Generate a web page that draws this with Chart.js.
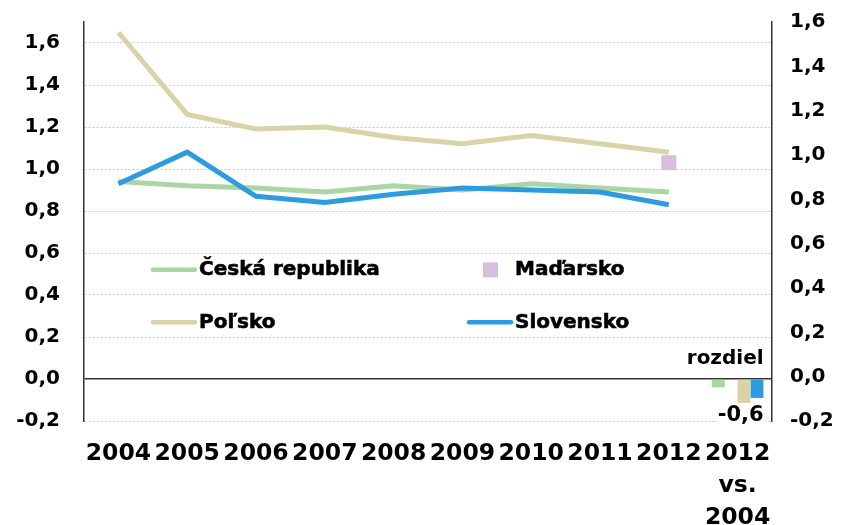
<!DOCTYPE html>
<html>
<head>
<meta charset="utf-8">
<script src="https://cdn.jsdelivr.net/npm/chart.js@4"></script>
<style>
  html, body { margin: 0; padding: 0; background: #fff; }
  #wrap { width: 841px; height: 525px; }
</style>
</head>
<body>
<div id="wrap"><canvas id="chart" width="841" height="525"></canvas></div>
<script>
// categories
const years = ['2004', '2005', '2006', '2007', '2008', '2009', '2010', '2011', '2012', ['2012', 'vs.', '2004']];

// series (2004..2012)
const seriesNames = ['Česká republika', 'Maďarsko', 'Poľsko', 'Slovensko'];
const czech    = [0.94, 0.92, 0.91, 0.89, 0.92, 0.90, 0.93, 0.91, 0.89];
const hungary  = [null, null, null, null, null, null, null, null, 1.03];
const poland   = [1.65, 1.26, 1.19, 1.20, 1.15, 1.12, 1.16, 1.12, 1.08];
const slovakia = [0.93, 1.08, 0.87, 0.84, 0.88, 0.91, 0.90, 0.89, 0.83];

// 2012 vs 2004 difference, same order as seriesNames
const diffs = [-0.04, null, -0.57, -0.09];

// tick labels
const diffLabel = 'rozdiel';

const colors = ['#acd5a5', '#d6bedd', '#d9d3aa', '#2f9bdf'];
const fmt = v => v.toFixed(1).replace('.', ',');
const FONT = 'DejaVu Sans';

function diffBar(i) {
    return years.map((y, k) => (k === years.length - 1 ? diffs[i] : null));
}

// legend drawn inside the plot, 2 x 2
const insideLegend = {
    id: 'insideLegend',
    afterDraw(chart) {
        const ctx = chart.ctx;
        const y = chart.scales.y;
        const rows = [y.getPixelForValue(0.52), y.getPixelForValue(0.27)];
        const cols = [199, 515];
        const slots = [[0, 0], [1, 0], [0, 1], [1, 1]];
        ctx.save();
        ctx.font = 'bold 20px "' + FONT + '"';
        ctx.textBaseline = 'middle';
        seriesNames.forEach((name, i) => {
            const tx = cols[slots[i][0]];
            const ty = rows[slots[i][1]];
            if (i === 1) {
                ctx.fillStyle = colors[i];
                ctx.fillRect(tx - 32, ty - 7.5, 15, 15);
            } else {
                ctx.strokeStyle = colors[i];
                ctx.lineWidth = 4.5;
                ctx.lineCap = 'round';
                ctx.beginPath();
                ctx.moveTo(tx - 46, ty);
                ctx.lineTo(tx - 4, ty);
                ctx.stroke();
            }
            ctx.fillStyle = '#000';
            ctx.strokeStyle = '#000';
            ctx.lineWidth = 0.6;
            ctx.fillText(name, tx, ty);
            ctx.strokeText(name, tx, ty);
        });
        ctx.restore();
    }
};

// "rozdiel" and the Poland difference label
const diffLabels = {
    id: 'diffLabels',
    afterDatasetsDraw(chart) {
        const ctx = chart.ctx;
        const x = chart.scales.x;
        const y = chart.scales.y;
        const right = x.getPixelForValue(years.length - 1) + 26;
        ctx.save();
        ctx.fillStyle = '#000';
        ctx.textAlign = 'right';
        ctx.textBaseline = 'middle';
        ctx.font = 'bold 20px "' + FONT + '"';
        ctx.fillText(diffLabel, right, y.getPixelForValue(0) - 20);
        const by = y.bottom - 5;
        ctx.fillStyle = '#fff';
        ctx.fillRect(right - 46, by - 13, 48, 26);
        ctx.fillStyle = '#000';
        ctx.font = 'bold 21px "' + FONT + '"';
        ctx.fillText(fmt(diffs[2]), right, by);
        ctx.restore();
    }
};

new Chart(document.getElementById('chart'), {
    type: 'bar',
    data: {
        labels: years,
        datasets: [
            { type: 'line', label: seriesNames[3], data: slovakia, borderColor: colors[3], borderWidth: 5, pointRadius: 0, order: 1 },
            { type: 'line', label: seriesNames[0], data: czech, borderColor: colors[0], borderWidth: 5, pointRadius: 0, order: 2 },
            { type: 'line', label: seriesNames[2], data: poland, borderColor: colors[2], borderWidth: 5, pointRadius: 0, order: 3 },
            { type: 'line', label: seriesNames[1], data: hungary, showLine: false, pointStyle: 'rect', pointRadius: 10.6,
              pointBorderWidth: 0, pointBackgroundColor: colors[1], backgroundColor: colors[1], order: 0 },
            { label: seriesNames[0], data: diffBar(0), backgroundColor: colors[0], order: 4 },
            { label: seriesNames[1], data: diffBar(1), backgroundColor: colors[1], order: 4 },
            { label: seriesNames[2], data: diffBar(2), backgroundColor: colors[2], order: 4 },
            { label: seriesNames[3], data: diffBar(3), backgroundColor: colors[3], order: 4 }
        ]
    },
    options: {
        responsive: false,
        animation: false,
        layout: { padding: { top: 22 } },
        datasets: { bar: { barPercentage: 1, categoryPercentage: 0.75 } },
        plugins: { legend: { display: false }, tooltip: { enabled: false } },
        scales: {
            x: {
                grid: { display: false },
                border: { display: false },
                ticks: {
                    color: '#000', autoSkip: false, maxRotation: 0, padding: 9,
                    font: { family: FONT, weight: 'bold', size: 23.5, lineHeight: 1.36 }
                },
                afterFit(s) { s.height = 104; s.paddingLeft = 0; s.paddingRight = 0; }
            },
            y: {
                position: 'left',
                min: -0.2, max: 1.7,
                grid: {
                    drawTicks: false,
                    color: c => (c.tick && c.tick.value === 0 ? '#333' : '#c9c9c9'),
                    lineWidth: c => (c.tick && c.tick.value === 0 ? 1.5 : 1)
                },
                border: {
                    display: true, color: '#333', width: 1.5,
                    dash: c => (c.tick && c.tick.value !== 0 ? [2, 2] : [])
                },
                ticks: {
                    stepSize: 0.2, includeBounds: false, padding: 24, color: '#000',
                    font: { family: FONT, weight: 'bold', size: 20 },
                    callback: v => fmt(v)
                },
                afterFit(s) { s.width = 84; s.paddingTop = 0; s.paddingBottom = 0; }
            },
            y2: {
                position: 'right',
                min: -0.2, max: 1.6,
                grid: { drawOnChartArea: false, drawTicks: false },
                border: { display: true, color: '#333', width: 1.5 },
                ticks: {
                    stepSize: 0.2, padding: 18, color: '#000',
                    font: { family: FONT, weight: 'bold', size: 20 },
                    callback: v => fmt(v)
                },
                afterFit(s) { s.width = 69; s.paddingTop = 0; s.paddingBottom = 0; }
            }
        }
    },
    plugins: [diffLabels, insideLegend]
});
</script>
</body>
</html>
